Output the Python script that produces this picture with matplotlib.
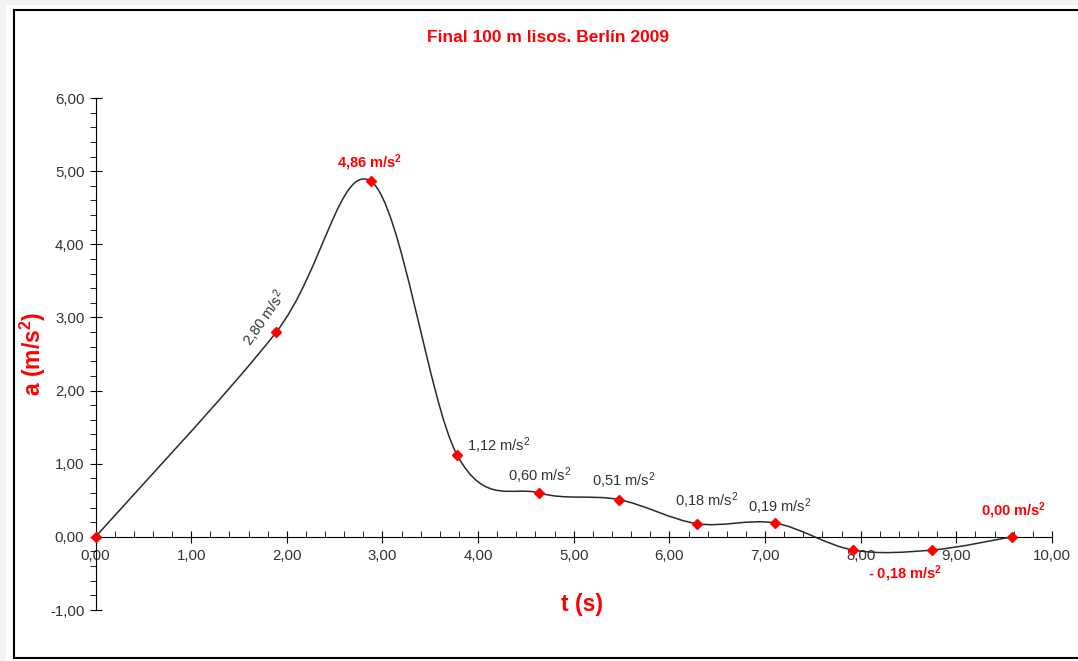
import matplotlib
matplotlib.use("Agg")
import matplotlib.pyplot as plt
from matplotlib.patches import Rectangle, PathPatch
from matplotlib.path import Path
from matplotlib.ticker import MultipleLocator, FuncFormatter

plt.rcParams['font.family'] = ['Liberation Sans', 'DejaVu Sans']
plt.rcParams['mathtext.fontset'] = 'custom'
plt.rcParams['mathtext.rm'] = 'Liberation Sans'
plt.rcParams['mathtext.bf'] = 'Liberation Sans:bold'
plt.rcParams['mathtext.default'] = 'regular'

# tiempos de paso (s) y aceleración (m/s2)
t = [0.00, 1.89, 2.88, 3.78, 4.64, 5.47, 6.29, 7.10, 7.92, 8.75, 9.58]
a = [0.00, 2.80, 4.86, 1.12, 0.60, 0.51, 0.18, 0.19, -0.18, -0.18, 0.00]

labels = ["", "2,80 m/s$^2$", "4,86 m/s$^\\mathbf{2}$", "1,12 m/s$^2$",
          "0,60 m/s$^2$", "0,51 m/s$^2$", "0,18 m/s$^2$", "0,19 m/s$^2$", "",
          "- 0,18 m/s$^\\mathbf{2}$", "0,00 m/s$^\\mathbf{2}$"]
label_red = [False, False, True, False, False, False, False, False, False, True, True]
# desplazamiento de cada etiqueta en pixeles
label_off = [(0, 0), (-12, 14), (-1, 19), (42, 9), (0, 17), (5, 19),
             (10, 23), (5, 16), (0, 0), (-27, -24), (2, 26)]
label_rot = [0, 55, 0, 0, 0, 0, 0, 0, 0, 0, 0]

fig = plt.figure(figsize=(10.78, 6.61), dpi=100)
fig.patch.set_facecolor('#f3f3f3')
W, H = 1078, 661
fig.patches.append(Rectangle((6 / W, 0), 1.0, 1 - 5 / H, transform=fig.transFigure,
                             facecolor='white', edgecolor='none', zorder=-2))
fig.patches.append(Rectangle((14 / W, 1 - 658 / H), 1.0, (658 - 10) / H,
                             transform=fig.transFigure, facecolor='white',
                             edgecolor='black', lw=1.5, zorder=-1))

ax = fig.add_axes([95.5 / W, 1 - 610 / H, (1052 - 95.5) / W, (610 - 98) / H])
ax.set_zorder(1)
ax.set_facecolor('none')
ax.set_xlim(0, 10)
ax.set_ylim(-1, 6)

ax.spines['top'].set_visible(False)
ax.spines['right'].set_visible(False)
ax.spines['bottom'].set_position(('data', 0))

fmt = FuncFormatter(lambda v, p: f"{v:.2f}".replace('.', ','))
ax.xaxis.set_major_locator(MultipleLocator(1))
ax.xaxis.set_minor_locator(MultipleLocator(0.2))
ax.yaxis.set_major_locator(MultipleLocator(1))
ax.yaxis.set_minor_locator(MultipleLocator(0.2))
ax.xaxis.set_major_formatter(fmt)
ax.yaxis.set_major_formatter(fmt)
ax.tick_params(axis='both', which='major', direction='inout', length=9,
               labelsize=10.8, labelcolor='#333333')
ax.tick_params(axis='x', which='minor', direction='in', length=4)
ax.tick_params(axis='y', which='minor', direction='out', length=4)
ax.tick_params(axis='x', which='major', pad=4)

# línea suavizada (Catmull-Rom como en Excel)
pts = list(zip(t, a))
verts = [pts[0]]
codes = [Path.MOVETO]
n = len(pts)
for i in range(n - 1):
    p0 = pts[max(i - 1, 0)]
    p1 = pts[i]
    p2 = pts[i + 1]
    p3 = pts[min(i + 2, n - 1)]
    c1 = (p1[0] + (p2[0] - p0[0]) / 6, p1[1] + (p2[1] - p0[1]) / 6)
    c2 = (p2[0] - (p3[0] - p1[0]) / 6, p2[1] - (p3[1] - p1[1]) / 6)
    verts += [c1, c2, p2]
    codes += [Path.CURVE4] * 3
ax.add_patch(PathPatch(Path(verts, codes), fill=False, edgecolor='#2a2a2a',
                       lw=1.1, zorder=3))
ax.plot(t, a, linestyle='none', marker='D', markersize=5, color='#ff0000',
        zorder=4, clip_on=False)

for x, y, s, red, off, rot in zip(t, a, labels, label_red, label_off, label_rot):
    if not s:
        continue
    ax.annotate(s, (x, y), xytext=off, textcoords='offset pixels',
                ha='center', va='center', rotation=rot, fontsize=10.5,
                color='#ff0000' if red else '#333333',
                fontweight='bold' if red else 'normal')

fig.text(548 / W, 1 - 37 / H, "Final 100 m lisos. Berlín 2009", ha='center',
         va='center', color='#ff0000', fontsize=12.5, fontweight='bold')
fig.text(582 / W, 1 - 604 / H, "t (s)", ha='center', va='center',
         color='#ff0000', fontsize=16.5, fontweight='bold')
fig.text(33 / W, 1 - 354 / H, "a (m/s$^\\mathbf{2}$)", ha='center', va='center',
         rotation=90, color='#ff0000', fontsize=16.5, fontweight='bold')

fig.savefig("out.png", dpi=100, facecolor=fig.get_facecolor())
